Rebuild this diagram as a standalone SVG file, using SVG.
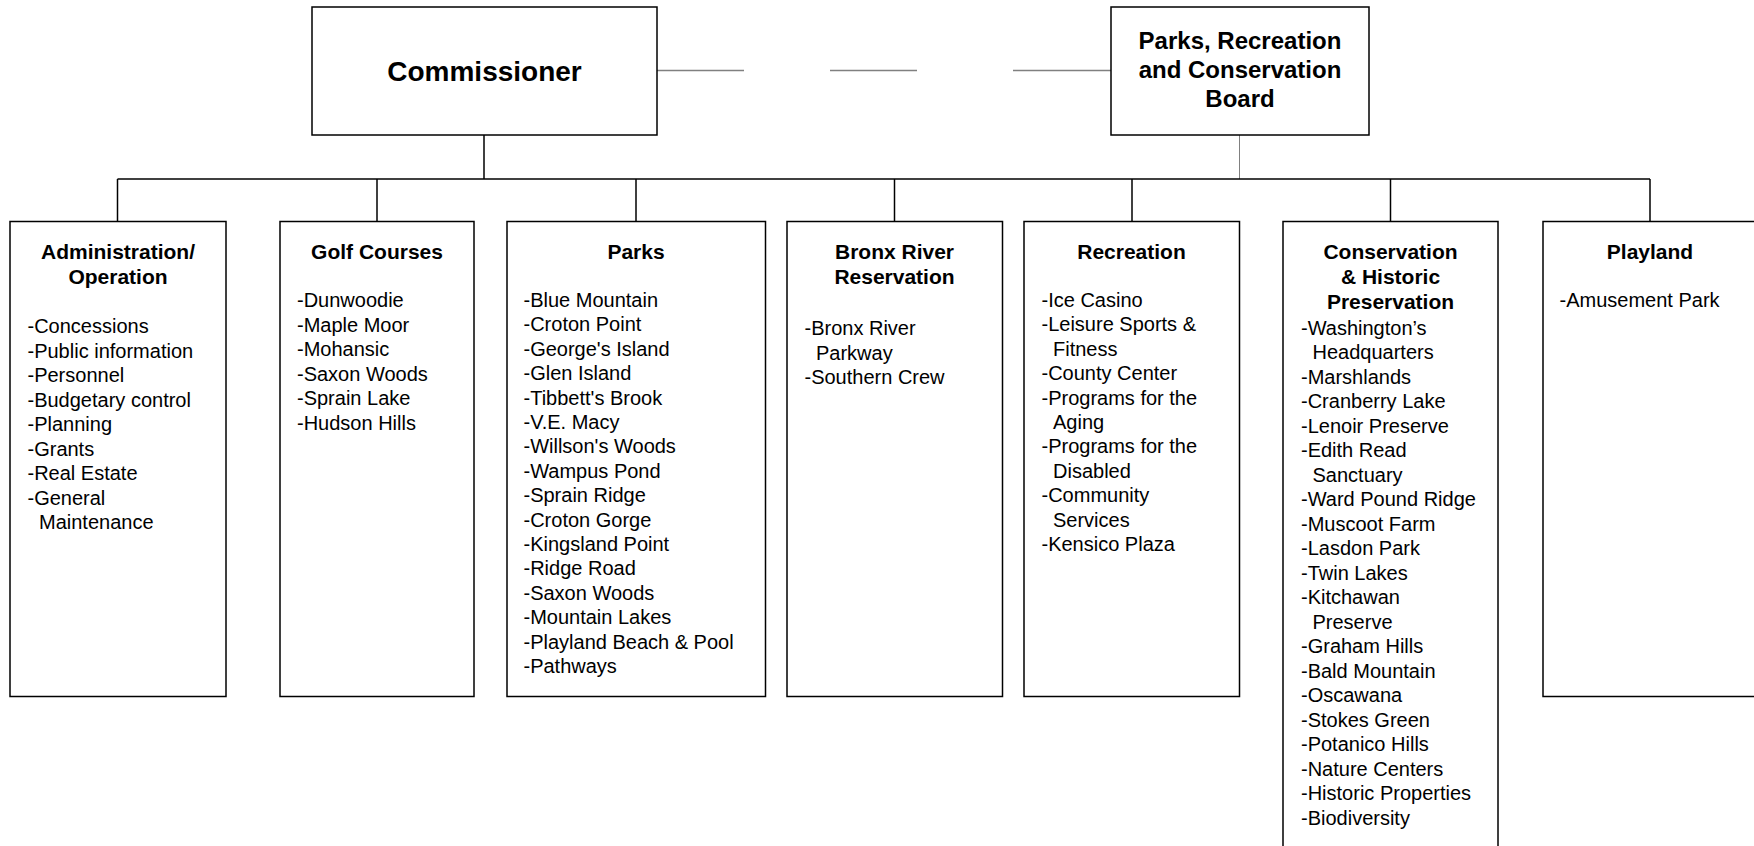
<svg xmlns="http://www.w3.org/2000/svg" width="1754" height="846" viewBox="0 0 1754 846">
<style>
.box{fill:#fff;stroke:#000;stroke-width:1.5}
.ln{stroke:#000;stroke-width:1.5;fill:none}
.gl{stroke:#808080;stroke-width:1.5;fill:none}
.t{font-family:"Liberation Sans",Arial,sans-serif;font-weight:bold;font-size:21px;text-anchor:middle;fill:#000}
.i{font-family:"Liberation Sans",Arial,sans-serif;font-size:20px;fill:#000}
</style>
<rect width="1754" height="846" fill="#fff"/>
<g id="connectors">
<line class="gl" x1="657" y1="70.5" x2="744" y2="70.5"/>
<line class="gl" x1="830" y1="70.5" x2="917" y2="70.5"/>
<line class="gl" x1="1013" y1="70.5" x2="1111" y2="70.5"/>
<line class="ln" x1="484" y1="135" x2="484" y2="179"/>
<line class="gl" x1="1239.5" y1="135" x2="1239.5" y2="179" style="stroke-width:1"/>
<line class="ln" x1="117.5" y1="179" x2="1650" y2="179"/>
<line class="ln" x1="117.5" y1="179" x2="117.5" y2="221.5"/>
<line class="ln" x1="377" y1="179" x2="377" y2="221.5"/>
<line class="ln" x1="636" y1="179" x2="636" y2="221.5"/>
<line class="ln" x1="894.5" y1="179" x2="894.5" y2="221.5"/>
<line class="ln" x1="1132" y1="179" x2="1132" y2="221.5"/>
<line class="ln" x1="1390.5" y1="179" x2="1390.5" y2="221.5"/>
<line class="ln" x1="1650" y1="179" x2="1650" y2="221.5"/>
</g>
<g id="commissioner">
<rect class="box" x="312" y="7" width="345" height="128"/>
<text class="t" x="484.5" y="80.5" style="font-size:28px">Commissioner</text>
</g>
<g id="board">
<rect class="box" x="1111" y="7" width="258" height="128"/>
<text class="t" x="1240" y="49" style="font-size:24px">Parks, Recreation</text>
<text class="t" x="1240" y="78" style="font-size:24px">and Conservation</text>
<text class="t" x="1240" y="107" style="font-size:24px">Board</text>
</g>
<g id="admin">
<rect class="box" x="10" y="221.5" width="216" height="475"/>
<text class="t" x="118" y="259">Administration/</text>
<text class="t" x="118" y="284">Operation</text>
<text class="i" x="27.5" y="333">-Concessions</text>
<text class="i" x="27.5" y="357.5">-Public information</text>
<text class="i" x="27.5" y="382">-Personnel</text>
<text class="i" x="27.5" y="406.5">-Budgetary control</text>
<text class="i" x="27.5" y="431">-Planning</text>
<text class="i" x="27.5" y="455.5">-Grants</text>
<text class="i" x="27.5" y="480">-Real Estate</text>
<text class="i" x="27.5" y="504.5">-General</text>
<text class="i" x="39" y="529">Maintenance</text>
</g>
<g id="golf">
<rect class="box" x="280" y="221.5" width="194" height="475"/>
<text class="t" x="377" y="259">Golf Courses</text>
<text class="i" x="297" y="307">-Dunwoodie</text>
<text class="i" x="297" y="331.5">-Maple Moor</text>
<text class="i" x="297" y="356">-Mohansic</text>
<text class="i" x="297" y="380.5">-Saxon Woods</text>
<text class="i" x="297" y="405">-Sprain Lake</text>
<text class="i" x="297" y="429.5">-Hudson Hills</text>
</g>
<g id="parks">
<rect class="box" x="507" y="221.5" width="258.5" height="475"/>
<text class="t" x="636" y="259">Parks</text>
<text class="i" x="523.5" y="307">-Blue Mountain</text>
<text class="i" x="523.5" y="331.4">-Croton Point</text>
<text class="i" x="523.5" y="355.8">-George's Island</text>
<text class="i" x="523.5" y="380.2">-Glen Island</text>
<text class="i" x="523.5" y="404.6">-Tibbett's Brook</text>
<text class="i" x="523.5" y="429">-V.E. Macy</text>
<text class="i" x="523.5" y="453.4">-Willson's Woods</text>
<text class="i" x="523.5" y="477.8">-Wampus Pond</text>
<text class="i" x="523.5" y="502.2">-Sprain Ridge</text>
<text class="i" x="523.5" y="526.6">-Croton Gorge</text>
<text class="i" x="523.5" y="551">-Kingsland Point</text>
<text class="i" x="523.5" y="575.4">-Ridge Road</text>
<text class="i" x="523.5" y="599.8">-Saxon Woods</text>
<text class="i" x="523.5" y="624.2">-Mountain Lakes</text>
<text class="i" x="523.5" y="648.6">-Playland Beach &amp; Pool</text>
<text class="i" x="523.5" y="673">-Pathways</text>
</g>
<g id="bronx">
<rect class="box" x="787" y="221.5" width="215.5" height="475"/>
<text class="t" x="894.5" y="259">Bronx River</text>
<text class="t" x="894.5" y="284">Reservation</text>
<text class="i" x="804.5" y="335">-Bronx River</text>
<text class="i" x="816" y="359.5">Parkway</text>
<text class="i" x="804.5" y="384">-Southern Crew</text>
</g>
<g id="recreation">
<rect class="box" x="1024" y="221.5" width="215.5" height="475"/>
<text class="t" x="1131.5" y="259">Recreation</text>
<text class="i" x="1041.5" y="307">-Ice Casino</text>
<text class="i" x="1041.5" y="331.4">-Leisure Sports &amp;</text>
<text class="i" x="1053" y="355.8">Fitness</text>
<text class="i" x="1041.5" y="380.2">-County Center</text>
<text class="i" x="1041.5" y="404.6">-Programs for the</text>
<text class="i" x="1053" y="429">Aging</text>
<text class="i" x="1041.5" y="453.4">-Programs for the</text>
<text class="i" x="1053" y="477.8">Disabled</text>
<text class="i" x="1041.5" y="502.2">-Community</text>
<text class="i" x="1053" y="526.6">Services</text>
<text class="i" x="1041.5" y="551">-Kensico Plaza</text>
</g>
<g id="conservation">
<rect class="box" x="1283" y="221.5" width="215" height="640"/>
<text class="t" x="1390.5" y="259">Conservation</text>
<text class="t" x="1390.5" y="284">&amp; Historic</text>
<text class="t" x="1390.5" y="309">Preservation</text>
<text class="i" x="1301" y="334.5">-Washington’s</text>
<text class="i" x="1312.5" y="359">Headquarters</text>
<text class="i" x="1301" y="383.5">-Marshlands</text>
<text class="i" x="1301" y="408">-Cranberry Lake</text>
<text class="i" x="1301" y="432.5">-Lenoir Preserve</text>
<text class="i" x="1301" y="457">-Edith Read</text>
<text class="i" x="1312.5" y="481.5">Sanctuary</text>
<text class="i" x="1301" y="506">-Ward Pound Ridge</text>
<text class="i" x="1301" y="530.5">-Muscoot Farm</text>
<text class="i" x="1301" y="555">-Lasdon Park</text>
<text class="i" x="1301" y="579.5">-Twin Lakes</text>
<text class="i" x="1301" y="604">-Kitchawan</text>
<text class="i" x="1312.5" y="628.5">Preserve</text>
<text class="i" x="1301" y="653">-Graham Hills</text>
<text class="i" x="1301" y="677.5">-Bald Mountain</text>
<text class="i" x="1301" y="702">-Oscawana</text>
<text class="i" x="1301" y="726.5">-Stokes Green</text>
<text class="i" x="1301" y="751">-Potanico Hills</text>
<text class="i" x="1301" y="775.5">-Nature Centers</text>
<text class="i" x="1301" y="800">-Historic Properties</text>
<text class="i" x="1301" y="824.5">-Biodiversity</text>
</g>
<g id="playland">
<rect class="box" x="1543" y="221.5" width="215" height="475"/>
<text class="t" x="1650" y="259">Playland</text>
<text class="i" x="1559.5" y="307">-Amusement Park</text>
</g>
</svg>
